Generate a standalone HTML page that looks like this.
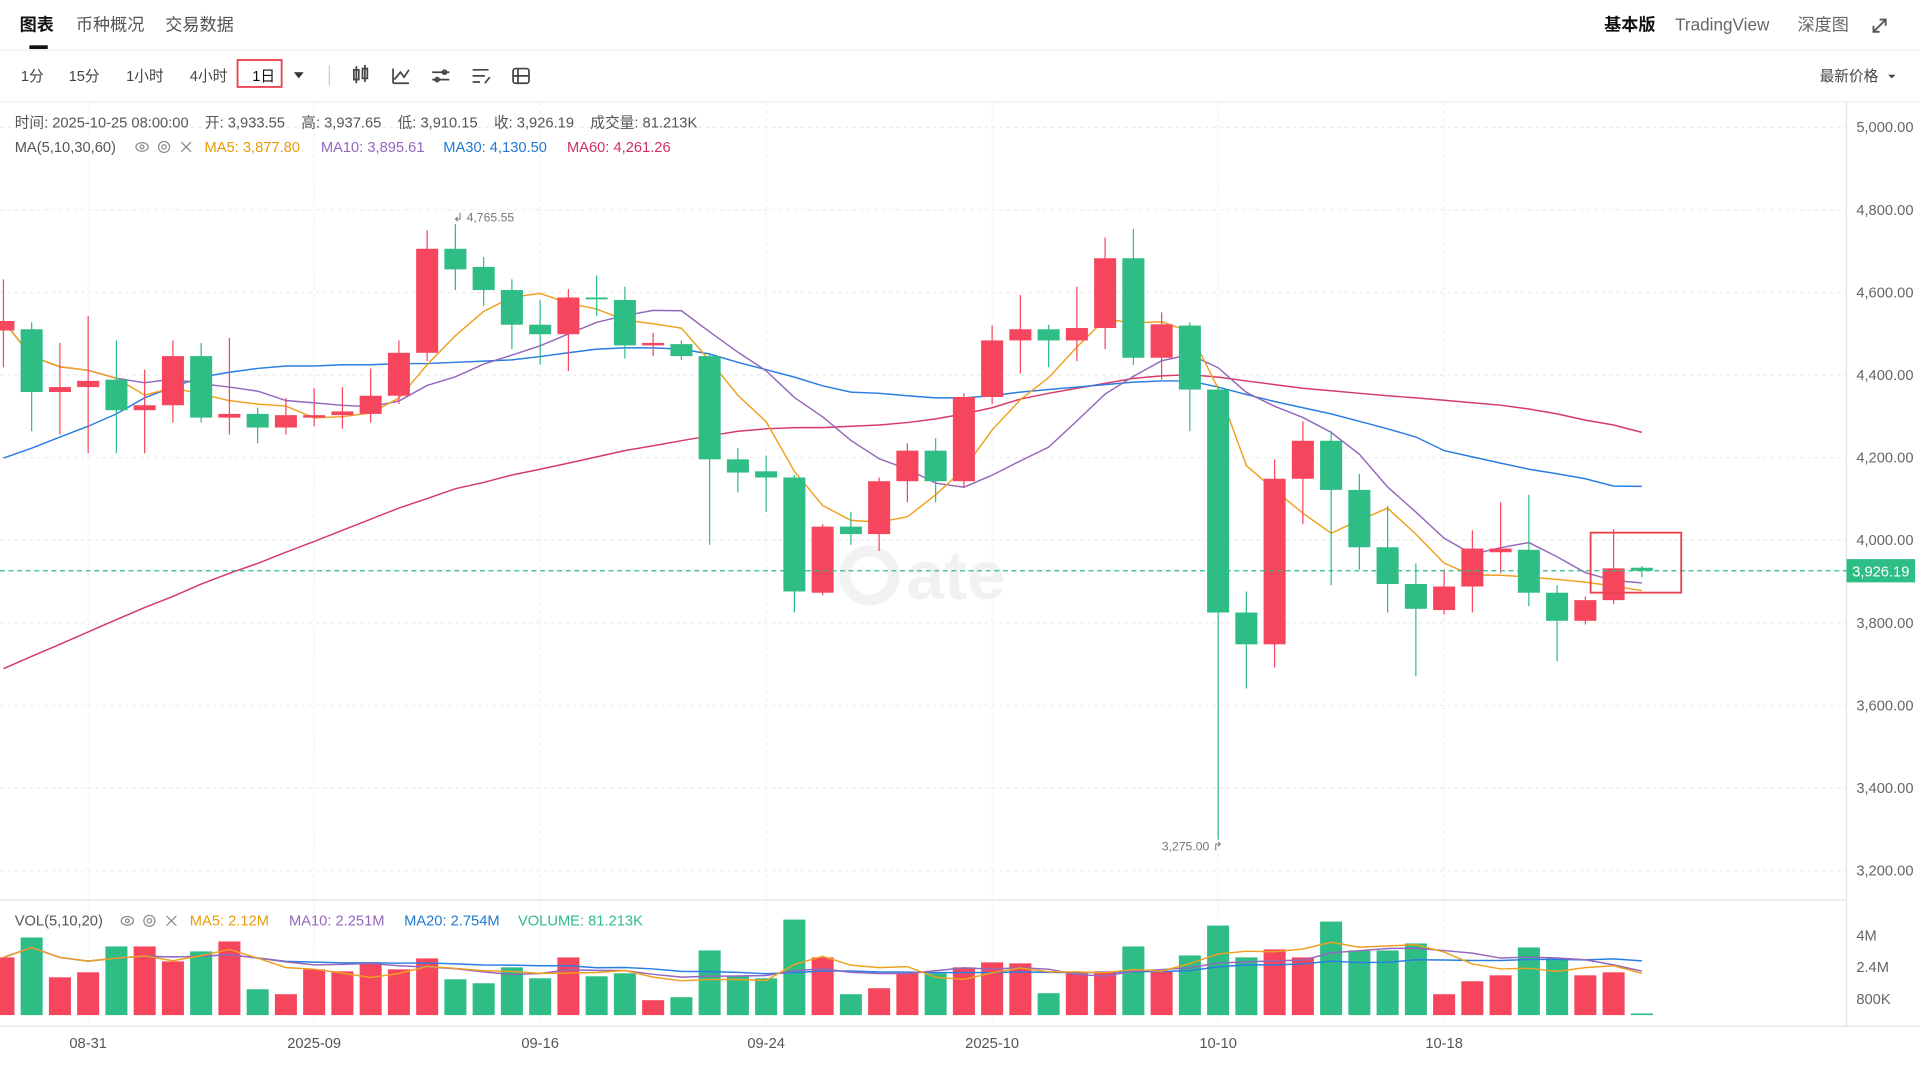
<!DOCTYPE html>
<html><head><meta charset="utf-8"><style>
html,body{margin:0;padding:0;background:#fff;width:1920px;height:1080px;overflow:hidden}
svg{display:block;font-family:"Liberation Sans","Noto Sans CJK SC",sans-serif}
</style></head><body>
<svg id="chart" width="1920" height="1080" viewBox="0 0 1568 882">
<rect x="0" y="0" width="1568" height="882" fill="#fff"/>
<g>
<text x="16" y="25" font-size="14" font-weight="bold" fill="#111">图表</text>
<rect x="24" y="37" width="15" height="3" fill="#111"/>
<text x="62" y="25" font-size="14" fill="#555">币种概况</text>
<text x="135" y="25" font-size="14" fill="#555">交易数据</text>
<text x="1310" y="25" font-size="14" font-weight="bold" fill="#111">基本版</text>
<text x="1368" y="25" font-size="14" fill="#666">TradingView</text>
<text x="1468" y="25" font-size="14" fill="#666">深度图</text>
<g stroke="#555" stroke-width="1.5" fill="none"><path d="M1530 26 L1540 16 M1535 16 L1540 16 L1540 21 M1530 21 L1530 26 L1535 26"/></g>
</g>
<line x1="0" y1="41" x2="1568" y2="41" stroke="#eee"/>
<g font-size="12" fill="#444">
<text x="17" y="66">1分</text>
<text x="56" y="66">15分</text>
<text x="103" y="66">1小时</text>
<text x="155" y="66">4小时</text>
<rect x="194" y="49" width="36" height="22" fill="none" stroke="#e8424d" stroke-width="1.5"/>
<text x="206" y="66" fill="#111">1日</text>
<path d="M240 59 L248 59 L244 64 Z" fill="#333"/>
<line x1="269" y1="53" x2="269" y2="70" stroke="#ccc"/>
<g stroke="#444" stroke-width="1.4" fill="none">
<g><rect x="289" y="57" width="4" height="8"/><rect x="296" y="56" width="4" height="8"/><line x1="291" y1="54" x2="291" y2="68"/><line x1="298" y1="53" x2="298" y2="67"/></g>
<g><path d="M321 68 L321 56 M321 68 L334 68 M322 65 L327 59 L330 63 L334 57"/></g>
<g><path d="M353 59 L367 59 M353 65 L367 65"/><circle cx="363" cy="59" r="1.6"/><circle cx="357" cy="65" r="1.6"/></g>
<g><path d="M386 57 L399 57 M386 62 L396 62 M386 67 L392 67 M396 68 L400 63"/></g>
<g><rect x="419" y="56" width="13" height="12" rx="2"/><path d="M419 62 L432 62 M423 56 L423 68"/></g>
</g>
<text x="1486" y="66" fill="#444">最新价格</text>
<path d="M1542 61 L1548 61 L1545 64 Z" fill="#444"/>
</g>
<line x1="0" y1="83" x2="1568" y2="83" stroke="#eee"/>
<g opacity="0.05">
<circle cx="710" cy="470" r="20" fill="none" stroke="#000" stroke-width="9"/>
<text x="740" y="489" font-size="56" font-weight="bold" fill="#000">ate</text>
</g>
<g id="grid"></g>
<g id="ma-lines"></g>
<g id="candles"></g>
<g id="vol"></g>
<g id="axes"></g>
<g font-size="12" fill="#555">
<text x="12" y="104" xml:space="preserve">时间: 2025-10-25 08:00:00    开: 3,933.55    高: 3,937.65    低: 3,910.15    收: 3,926.19    成交量: 81.213K</text>
</g>
<g font-size="12">
<text x="12" y="124" fill="#555">MA(5,10,30,60)</text>
<g fill="none" stroke="#888" stroke-width="1"><ellipse cx="116" cy="120" rx="5" ry="3.5"/><circle cx="116" cy="120" r="1.5"/><circle cx="134" cy="120" r="4.5"/><circle cx="134" cy="120" r="1.8"/><path d="M148 116 L156 124 M156 116 L148 124"/></g>
<text x="167" y="124" fill="#e89b0c">MA5: 3,877.80</text>
<text x="262" y="124" fill="#9467bd">MA10: 3,895.61</text>
<text x="362" y="124" fill="#1f78d1">MA30: 4,130.50</text>
<text x="463" y="124" fill="#d03060">MA60: 4,261.26</text>
</g>
<g font-size="12">
<text x="12" y="756" fill="#555">VOL(5,10,20)</text>
<g fill="none" stroke="#888" stroke-width="1"><ellipse cx="104" cy="752" rx="5" ry="3.5"/><circle cx="104" cy="752" r="1.5"/><circle cx="122" cy="752" r="4.5"/><circle cx="122" cy="752" r="1.8"/><path d="M136 748 L144 756 M144 748 L136 756"/></g>
<text x="155" y="756" fill="#e89b0c">MA5: 2.12M</text>
<text x="236" y="756" fill="#9467bd">MA10: 2.251M</text>
<text x="330" y="756" fill="#1f78d1">MA20: 2.754M</text>
<text x="423" y="756" fill="#2ebd85">VOLUME: 81.213K</text>
</g>
<script>
const categories=['08-28','08-29','08-30','08-31','09-01','09-02','09-03','09-04','09-05','09-06','09-07','09-08','09-09','09-10','09-11','09-12','09-13','09-14','09-15','09-16','09-17','09-18','09-19','09-20','09-21','09-22','09-23','09-24','09-25','09-26','09-27','09-28','09-29','09-30','10-01','10-02','10-03','10-04','10-05','10-06','10-07','10-08','10-09','10-10','10-11','10-12','10-13','10-14','10-15','10-16','10-17','10-18','10-19','10-20','10-21','10-22','10-23','10-24','10-25'];
const openVals=[4508,4511,4359,4371,4389,4315,4327,4446,4297,4306,4273,4297,4303,4306,4350,4454,4706,4662,4606,4522,4499,4588,4582,4472,4475,4446,4196,4167,4152,3873,4033,4015,4143,4217,4143,4347,4484,4511,4484,4514,4683,4442,4520,4365,3825,3748,4149,4241,4122,3983,3894,3831,3888,3971,3977,3873,3805,3855,3933.55];
const highVals=[4632,4528,4478,4543,4484,4413,4484,4478,4490,4321,4345,4368,4371,4416,4484,4751,4765.55,4686,4632,4582,4608,4641,4614,4502,4484,4454,4223,4205,4158,4039,4069,4152,4235,4247,4356,4520,4594,4522,4614,4733,4754,4552,4528,4374,3876,4196,4288,4265,4161,4083,3944,3929,4024,4092,4110,3891,3864,4027,3937.65];
const lowVals=[4419,4264,4256,4211,4211,4211,4285,4285,4256,4235,4256,4276,4270,4285,4330,4434,4606,4567,4463,4425,4410,4543,4440,4446,4437,3989,4116,4069,3825,3867,3989,3974,4092,4092,4128,4330,4404,4419,4434,4463,4425,4389,4264,3275,3641,3692,4039,3891,3929,3825,3671,3820,3825,3920,3840,3707,3796,3846,3910.15];
const closeVals=[4531,4359,4371,4386,4315,4327,4446,4297,4306,4273,4303,4303,4312,4350,4454,4706,4656,4606,4522,4499,4588,4585,4472,4478,4446,4196,4164,4152,3876,4033,4015,4143,4217,4143,4347,4484,4511,4484,4514,4683,4442,4523,4365,3825,3748,4149,4241,4122,3983,3894,3834,3888,3980,3980,3873,3805,3855,3932,3926.19];
const volumeVals=[2.9,3.9,1.9,2.15,3.45,3.45,2.7,3.2,3.7,1.3,1.05,2.3,2.2,2.6,2.3,2.85,1.8,1.6,2.4,1.85,2.9,1.95,2.1,0.75,0.9,3.25,1.95,1.85,4.8,2.9,1.05,1.35,2.1,2.1,2.4,2.65,2.6,1.1,2.1,2.2,3.45,2.2,3.0,4.5,2.9,3.3,2.9,4.7,3.25,3.25,3.6,1.05,1.7,2.0,3.4,2.85,2.0,2.15,0.081];
const ma30Vals=[4199,4223,4250,4276,4306,4345,4371,4395,4407,4416,4422,4422,4425,4425,4428,4428,4431,4434,4437,4445,4454,4463,4466,4466,4463,4451,4431,4413,4395,4374,4359,4356,4350,4345,4345,4350,4359,4365,4371,4377,4383,4386,4386,4371,4353,4336,4321,4306,4288,4270,4250,4217,4202,4187,4172,4161,4149,4131,4130.5];
const ma60Vals=[3689,3719,3748,3778,3808,3837,3864,3894,3920,3944,3971,3997,4024,4051,4078,4101,4125,4140,4158,4172,4187,4202,4217,4229,4241,4253,4264,4270,4273,4273,4276,4279,4285,4294,4306,4321,4342,4356,4368,4380,4392,4398,4401,4395,4386,4377,4368,4362,4356,4350,4345,4339,4333,4327,4318,4306,4291,4279,4261.26];
const priceTicks=[5000,4800,4600,4400,4200,4000,3800,3600,3400,3200];
const priceTickLabels=['5,000.00','4,800.00','4,600.00','4,400.00','4,200.00','4,000.00','3,800.00','3,600.00','3,400.00','3,200.00'];
const volTicks=[4,2.4,0.8];
const volTickLabels=['4M','2.4M','800K'];
const dateTickCats=['08-31','09-08','09-16','09-24','10-02','10-10','10-18'];
const dateTickLabels=['08-31','2025-09','09-16','09-24','2025-10','10-10','10-18'];
const lastPrice=3926.19;
const maxLabel='4,765.55', minLabel='3,275.00';

const NS='http://www.w3.org/2000/svg';
const UP='#f6465d', DOWN='#2ebd85';
function xOf(k){return 72+(k-3)*23.07;}
function xCat(c){return xOf(categories.indexOf(c));}
function yP(p){return 104+(5000-p)*0.33722;}
function yV(v){return 829-v*16.25;}
function mk(tag,attrs,parent){const e=document.createElementNS(NS,tag);for(const k in attrs)e.setAttribute(k,attrs[k]);parent.appendChild(e);return e;}
function ma(arr,n){return arr.map((_,i)=>{const s=arr.slice(Math.max(0,i-n+1),i+1);return s.reduce((a,b)=>a+b,0)/s.length;});}

const grid=document.getElementById('grid'),axes=document.getElementById('axes'),cg=document.getElementById('candles'),mg=document.getElementById('ma-lines'),vg=document.getElementById('vol');
priceTicks.forEach((p,i)=>{
  const l=mk('line',{x1:0,x2:1508,y1:yP(p),y2:yP(p),stroke:'#ececec','stroke-dasharray':'3,3'},grid);
  
  
  const t=mk('text',{x:1516,y:yP(p)+4,'font-size':12,fill:'#666'},axes);t.textContent=priceTickLabels[i];
  
  
});
dateTickCats.forEach((c,i)=>{
  const x=xCat(c);
  const l=mk('line',{x1:x,x2:x,y1:84,y2:838,stroke:'#f0f0f0','stroke-dasharray':'3,3'},grid);
  
  
  const t=mk('text',{x:x,y:856,'font-size':12,fill:'#555','text-anchor':'middle'},axes);t.textContent=dateTickLabels[i];
  
  
});
volTicks.forEach((v,i)=>{
  const t=mk('text',{x:1516,y:yV(v)+4,'font-size':12,fill:'#666'},axes);t.textContent=volTickLabels[i];
  
  
});
[[1508,83,1508,838],[0,735,1508,735],[0,838,1568,838]].forEach(a=>{
  const l=mk('line',{x1:a[0],y1:a[1],x2:a[2],y2:a[3],stroke:'#e4e4e4'},axes);
  
  
});
function poly(vals,color,name,yf,g){
  const pts=vals.map((v,k)=>xOf(k).toFixed(1)+','+yf(v).toFixed(1)).join(' ');
  const p=mk('polyline',{points:pts,fill:'none',stroke:color,'stroke-width':1.2},g);
  
  
}
poly(ma60Vals,'#d63a6a','ma60-line',yP,mg);
poly(ma30Vals,'#2a7de1','ma30-line',yP,mg);
poly(ma(closeVals,10),'#9467bd','ma10-line',yP,mg);
poly(ma(closeVals,5),'#f0a020','ma5-line',yP,mg);
categories.forEach((c,k)=>{
  const o=openVals[k],cl=closeVals[k],h=highVals[k],lo=lowVals[k];
  const col=cl>=o?UP:DOWN,x=xOf(k);
  const g=mk('g',{},cg);
  
  
  mk('line',{x1:x,x2:x,y1:yP(h),y2:yP(lo),stroke:col,'stroke-width':1},g);
  const top=yP(Math.max(o,cl)),bh=Math.max(1.5,yP(Math.min(o,cl))-top);
  mk('rect',{x:x-9,y:top,width:18,height:bh,fill:col},g);
  const v=volumeVals[k];
  const b=mk('rect',{x:x-9,y:yV(v),width:18,height:829-yV(v),fill:col},vg);
  
  
});
poly(ma(volumeVals,20),'#2a7de1','vol-ma20-line',yV,vg);
poly(ma(volumeVals,10),'#9467bd','vol-ma10-line',yV,vg);
poly(ma(volumeVals,5),'#f0a020','vol-ma5-line',yV,vg);
const hi=Math.max(...highVals),lo=Math.min(...lowVals);
const hk=highVals.indexOf(hi),lk=lowVals.indexOf(lo);
const ta=mk('text',{x:xOf(hk)-2,y:yP(hi)-2,'font-size':10,fill:'#777'},axes);ta.textContent='↲ '+maxLabel;


const tb=mk('text',{x:xOf(lk)+4,y:yP(lo)+9,'font-size':10,fill:'#777','text-anchor':'end'},axes);tb.textContent=minLabel+' ↱';


const yl=yP(lastPrice);
const ll=mk('line',{x1:0,x2:1508,y1:yl,y2:yl,stroke:'#2ebd85','stroke-dasharray':'4,3'},axes);


const lb=mk('rect',{x:1508,y:yl-9.5,width:56,height:19,fill:'#2ebd85'},axes);


const lt=mk('text',{x:1536,y:yl+4.5,'font-size':12,fill:'#fff','text-anchor':'middle'},axes);lt.textContent=lastPrice.toLocaleString('en-US',{minimumFractionDigits:2});


const hb=mk('rect',{x:1299,y:435,width:74,height:49,fill:'none',stroke:'#e8424d','stroke-width':1.5},axes);


</script>
</svg>
</body></html>
